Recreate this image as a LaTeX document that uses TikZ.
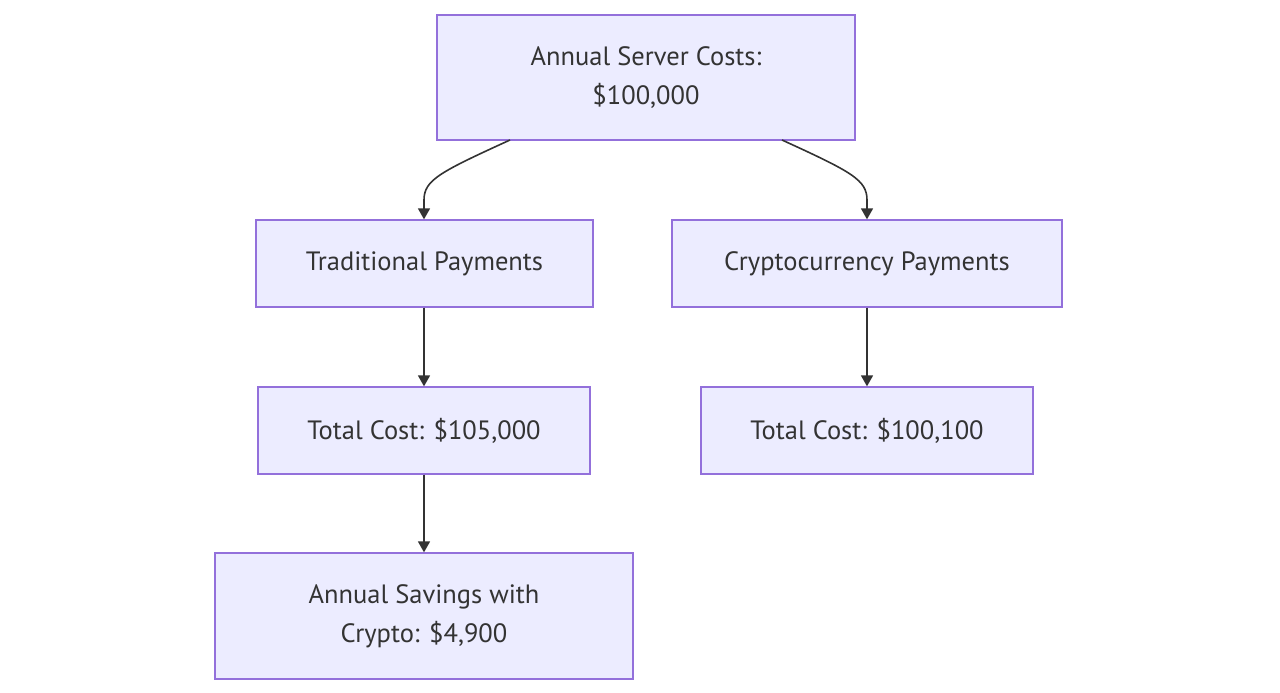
\documentclass[tikz,border=0pt]{standalone}
\usepackage{fontspec}
\setmainfont{PT Sans}
\usetikzlibrary{arrows.meta}
\definecolor{boxfill}{HTML}{ECECFF}
\definecolor{boxline}{HTML}{9370DB}
\definecolor{ink}{HTML}{333333}
\tikzset{
  box/.style={draw=boxline, fill=boxfill, line width=1.3pt, text=ink, font=\fontsize{26.5}{39}\selectfont, align=center, inner sep=0pt, anchor=center},
  conn/.style={draw=ink, line width=1.6pt, -{Triangle[length=11pt,width=12pt]}}
}
\begin{document}
\begin{tikzpicture}[x=1pt,y=-1pt]
\useasboundingbox (0,0) rectangle (1280,693);
\node[box, minimum width=418pt, minimum height=125pt] (top) at (646,77.5) {Annual Server Costs:\\\$100,000};
\node[box, minimum width=337pt, minimum height=87pt] (trad) at (424.5,263.5) {Traditional Payments};
\node[box, minimum width=390pt, minimum height=87pt] (cryp) at (867,263.5) {Cryptocurrency Payments};
\node[box, minimum width=332pt, minimum height=87pt] (tc1) at (424,430.5) {Total Cost: \$105,000};
\node[box, minimum width=332pt, minimum height=87pt] (tc2) at (867,430.5) {Total Cost: \$100,100};
\node[box, minimum width=418pt, minimum height=126pt] (sav) at (424,616) {Annual Savings with\\Crypto: \$4,900};
\coordinate (s1) at (510,140);
\coordinate (s2) at (782,140);
\draw[conn] (s1) .. controls (440,172) and (424,180) .. (424,200) -- (trad.north -| tc1);
\draw[conn] (s2) .. controls (852,172) and (867,180) .. (867,200) -- (cryp.north);
\draw[conn] (trad.south -| tc1) -- (tc1);
\draw[conn] (cryp) -- (tc2);
\draw[conn] (tc1) -- (sav.north -| tc1);
\end{tikzpicture}
\end{document}
